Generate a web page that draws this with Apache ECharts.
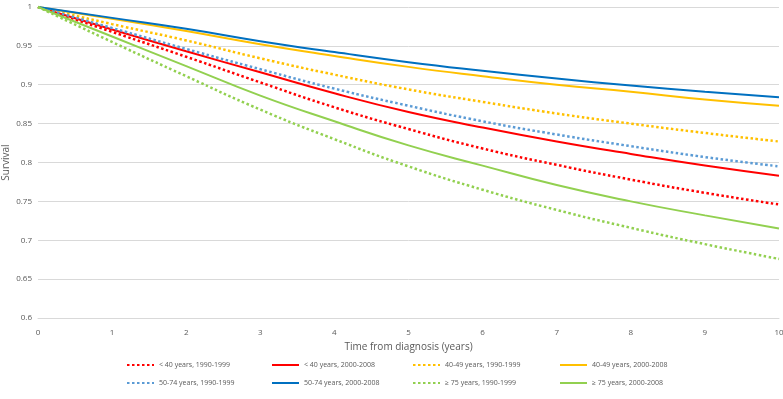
<!DOCTYPE html>
<html>
<head>
<meta charset="utf-8">
<script src="https://cdn.jsdelivr.net/npm/echarts@6/dist/echarts.min.js"></script>
<style>
html, body { margin: 0; padding: 0; background: #fff; }
#chart { width: 783px; height: 399px; }
</style>
</head>
<body>
<div id="chart"></div>
<script>
// 时间（年）
const years = [0, 1, 2, 3, 4, 5, 6, 7, 8, 9, 10];
const yTicks = [0.6, 0.65, 0.7, 0.75, 0.8, 0.85, 0.9, 0.95, 1];

const names = [
    '< 40 years, 1990-1999', '< 40 years, 2000-2008',
    '40-49 years, 1990-1999', '40-49 years, 2000-2008',
    '50-74 years, 1990-1999', '50-74 years, 2000-2008',
    '≥ 75 years, 1990-1999', '≥ 75 years, 2000-2008'
];

const under40Old = [1, 0.968, 0.936, 0.903, 0.871, 0.843, 0.818, 0.797, 0.778, 0.761, 0.746];
const under40New = [1, 0.971, 0.943, 0.916, 0.889, 0.865, 0.845, 0.827, 0.811, 0.796, 0.783];
const age4049Old = [1, 0.978, 0.957, 0.934, 0.913, 0.894, 0.878, 0.863, 0.850, 0.838, 0.827];
const age4049New = [1, 0.985, 0.969, 0.952, 0.937, 0.923, 0.911, 0.900, 0.891, 0.881, 0.873];
const age5074Old = [1, 0.973, 0.946, 0.920, 0.895, 0.873, 0.853, 0.836, 0.821, 0.807, 0.795];
const age5074New = [1, 0.986, 0.972, 0.956, 0.942, 0.929, 0.918, 0.908, 0.899, 0.891, 0.884];
const over75Old  = [1, 0.955, 0.911, 0.868, 0.830, 0.795, 0.765, 0.739, 0.716, 0.695, 0.676];
const over75New  = [1, 0.962, 0.924, 0.886, 0.853, 0.822, 0.796, 0.771, 0.750, 0.732, 0.715];

const values = [under40Old, under40New, age4049Old, age4049New, age5074Old, age5074New, over75Old, over75New];
const colors = ['#FF0000', '#FF0000', '#FFC000', '#FFC000', '#5B9BD5', '#0070C0', '#92D050', '#92D050'];
const dotted = [true, false, true, false, true, false, true, false];

const chart = echarts.init(document.getElementById('chart'));

const series = values.map((v, i) => ({
    name: names[i],
    type: 'line',
    data: years.map((t, k) => [t, v[k]]),
    smooth: true,
    symbol: 'none',
    lineStyle: {
        color: colors[i],
        width: dotted[i] ? 2.5 : 2,
        type: dotted[i] ? [2.5, 2.5] : 'solid'
    },
    itemStyle: { color: colors[i] }
}));

// 图例：两行四列
const legendX = [121, 266, 407, 554];
const legendY = [356, 374];
const legends = names.map((n, i) => ({
    data: [n],
    left: legendX[i % 4],
    top: legendY[Math.floor(i / 4)],
    itemWidth: 27,
    itemHeight: 10,
    itemGap: 0,
    itemStyle: { opacity: 0 },
    textStyle: { fontSize: 7, color: '#595959', fontFamily: 'Open Sans' }
}));

const option = {
    backgroundColor: '#fff',
    animation: false,
    grid: { left: 38, right: 4, top: 7, bottom: 81, outerBoundsMode: 'none', containLabel: false },
    legend: legends,
    xAxis: {
        type: 'value',
        min: 0,
        max: 10,
        interval: 1,
        name: 'Time from diagnosis (years)',
        nameLocation: 'middle',
        nameGap: 23,
        nameTextStyle: { fontSize: 10, color: '#595959', fontFamily: 'Open Sans' },
        axisLine: { show: true, lineStyle: { color: '#D9D9D9' } },
        axisTick: { show: false },
        splitLine: { show: false },
        axisLabel: { fontSize: 8, color: '#595959', margin: 11, fontFamily: 'Open Sans' }
    },
    yAxis: {
        type: 'value',
        min: yTicks[0],
        max: yTicks[yTicks.length - 1],
        interval: 0.05,
        name: 'Survival',
        nameLocation: 'middle',
        nameGap: 27,
        nameMoveOverlap: false,
        nameTextStyle: { fontSize: 10, color: '#595959', fontFamily: 'Open Sans' },
        axisLine: { show: false },
        axisTick: { show: false },
        splitLine: { lineStyle: { color: '#D9D9D9', width: 1 } },
        axisLabel: { fontSize: 8, color: '#595959', margin: 6, fontFamily: 'Open Sans' }
    },
    series: series
};
chart.setOption(option);
</script>
</body>
</html>
